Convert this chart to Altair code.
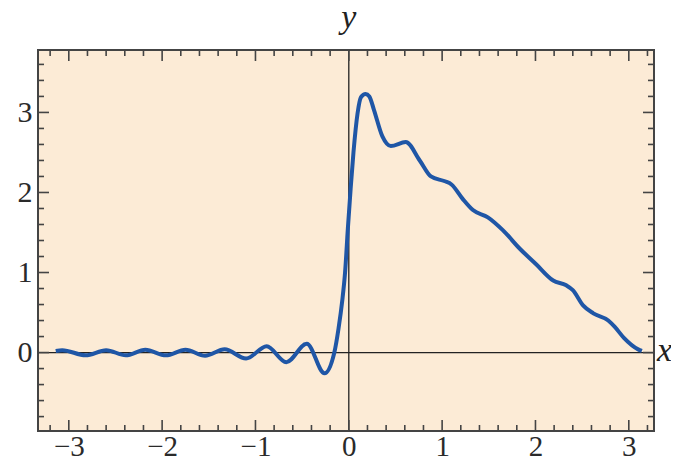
import altair as alt
import pandas as pd

# curve samples
xs = [-3.14, -3.07, -2.82, -2.60, -2.39, -2.18, -1.96, -1.75, -1.54, -1.33,
      -1.10, -0.88, -0.67, -0.45, -0.26, -0.155, -0.11, -0.07, -0.04, -0.01,
      0.02, 0.05, 0.094, 0.13, 0.18, 0.22, 0.27, 0.36, 0.45, 0.61,
      0.76, 0.88, 1.03, 1.10, 1.22, 1.33, 1.49, 1.65, 1.83, 2.01,
      2.19, 2.33, 2.40, 2.51, 2.62, 2.78, 2.85, 2.95, 3.10, 3.14]
ys = [0.02, 0.03, -0.035, 0.03, -0.035, 0.035, -0.035, 0.035, -0.04, 0.04,
      -0.075, 0.08, -0.12, 0.11, -0.26, 0.0, 0.30, 0.65, 1.0, 1.55,
      2.05, 2.50, 2.99, 3.19, 3.23, 3.20, 3.03, 2.70, 2.58, 2.63,
      2.40, 2.20, 2.14, 2.10, 1.92, 1.78, 1.69, 1.53, 1.30, 1.10,
      0.90, 0.84, 0.78, 0.59, 0.49, 0.40, 0.32, 0.18, 0.04, 0.02]

x_major = [-3, -2, -1, 0, 1, 2, 3]
y_major = [0, 1, 2, 3]
x_minor = [round(-3.2 + 0.2 * i, 1) for i in range(33) if abs(round(-3.2 + 0.2 * i, 1) % 1) > 1e-6]
y_minor = [round(-0.8 + 0.2 * i, 1) for i in range(23) if abs(round(-0.8 + 0.2 * i, 1) % 1) > 1e-6]

W, H = 616, 381
MAJ, MIN = 11, 6
FONT = "Liberation Serif"

xscale = alt.Scale(domain=[-3.33, 3.27], nice=False, zero=False)
yscale = alt.Scale(domain=[-0.98, 3.78], nice=False, zero=False)
xaxis = alt.Axis(values=x_major, format="d", title=None, ticks=False, domain=False,
                 grid=False, labelFont=FONT, labelFontSize=29, labelColor="#2a2a2a",
                 labelPadding=1, labelFlush=False, labelOverlap=False)
yaxis = alt.Axis(values=y_major, format="d", title=None, ticks=False, domain=False,
                 grid=False, labelFont=FONT, labelFontSize=30, labelColor="#2a2a2a",
                 labelPadding=6, labelOverlap=False)

curve_df = pd.DataFrame({"x": xs, "y": ys})
curve = alt.Chart(curve_df).mark_line(color="#1f56a6", strokeWidth=4, interpolate="monotone").encode(
    x=alt.X("x:Q", scale=xscale, axis=xaxis),
    y=alt.Y("y:Q", scale=yscale, axis=yaxis),
)

zero_df = pd.DataFrame({"v": [0]})
hline = alt.Chart(zero_df).mark_rule(color="#222", strokeWidth=1.3).encode(
    y=alt.Y("v:Q", scale=yscale, axis=yaxis)
)
vline = alt.Chart(zero_df).mark_rule(color="#222", strokeWidth=1.3).encode(
    x=alt.X("v:Q", scale=xscale, axis=xaxis)
)

def xticks(vals, length):
    df = pd.DataFrame({"t": vals})
    bottom = alt.Chart(df).mark_rule(color="#444", strokeWidth=1.6).encode(
        x=alt.X("t:Q", scale=xscale, axis=xaxis), y=alt.value(H), y2=alt.value(H - length))
    top = alt.Chart(df).mark_rule(color="#444", strokeWidth=1.6).encode(
        x=alt.X("t:Q", scale=xscale, axis=xaxis), y=alt.value(0), y2=alt.value(length))
    return bottom + top

def yticks(vals, length):
    df = pd.DataFrame({"t": vals})
    left = alt.Chart(df).mark_rule(color="#444", strokeWidth=1.6).encode(
        y=alt.Y("t:Q", scale=yscale, axis=yaxis), x=alt.value(0), x2=alt.value(length))
    right = alt.Chart(df).mark_rule(color="#444", strokeWidth=1.6).encode(
        y=alt.Y("t:Q", scale=yscale, axis=yaxis), x=alt.value(W), x2=alt.value(W - length))
    return left + right

xlab = alt.Chart(zero_df).mark_text(text="x", font=FONT, fontStyle="italic", fontSize=34,
                                    align="left", baseline="alphabetic", dy=8, color="#222").encode(
    x=alt.value(W + 3), y=alt.Y("v:Q", scale=yscale, axis=yaxis))
ylab = alt.Chart(zero_df).mark_text(text="y", font=FONT, fontStyle="italic", fontSize=34,
                                    align="center", baseline="alphabetic", color="#222").encode(
    x=alt.X("v:Q", scale=xscale, axis=xaxis), y=alt.value(-22))

chart = alt.layer(
    hline, vline,
    xticks(x_major, MAJ), xticks(x_minor, MIN),
    yticks(y_major, MAJ), yticks(y_minor, MIN),
    curve, xlab, ylab,
).properties(
    width=W, height=H,
    autosize=alt.AutoSizeParams(type="none"),
    padding={"left": 30, "top": 42, "right": 17, "bottom": 29},
).configure(
    background="white",
    view=alt.ViewConfig(fill="#fcebd6", stroke="#444", strokeWidth=2),
)

chart.save("out.html", embed_options={"renderer": "svg", "actions": False})
